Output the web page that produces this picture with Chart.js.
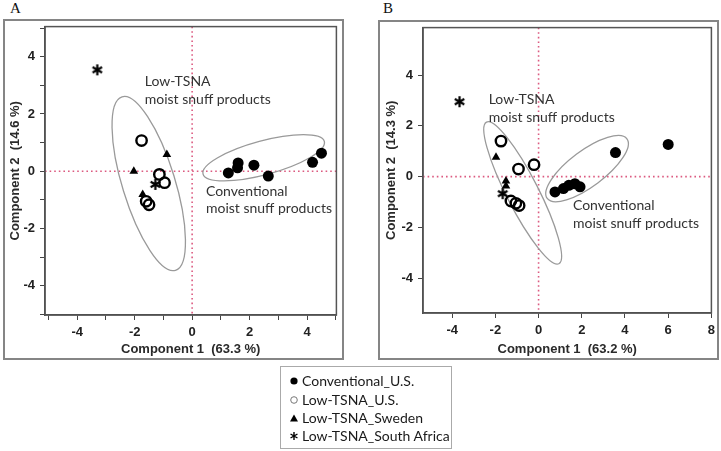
<!DOCTYPE html>
<html>
<head>
<meta charset="utf-8">
<script src="https://cdn.jsdelivr.net/npm/chart.js@4/dist/chart.umd.min.js"></script>
<style>
html,body{margin:0;padding:0;background:#fff;}
body{width:721px;height:451px;position:relative;overflow:hidden;font-family:Lato,"Open Sans",sans-serif;}
.abs{position:absolute;}
.frame{position:absolute;border:2px solid #858585;box-sizing:border-box;pointer-events:none;}
.letter{position:absolute;font-family:"Liberation Serif","DejaVu Serif",serif;font-size:15px;color:#111;line-height:15px;}
#legend{position:absolute;left:280px;top:366px;width:172px;height:83px;border:1.5px solid #aaa;box-sizing:border-box;}
.item{position:absolute;left:8px;height:18px;font-size:14px;color:#1a1a1a;line-height:18px;white-space:nowrap;}
.item canvas{position:absolute;left:0;top:4px;}
.item span{position:absolute;left:13px;top:0;}
</style>
</head>
<body>
<div class="letter" style="left:10px;top:1px;">A</div>
<div class="letter" style="left:383px;top:1px;">B</div>

<div class="abs" style="left:3px;top:19px;width:341px;height:341px;"><canvas id="chartA" width="341" height="341"></canvas></div>
<div class="abs" style="left:378px;top:20px;width:341px;height:340px;"><canvas id="chartB" width="341" height="340"></canvas></div>
<div class="frame" style="left:3px;top:19px;width:341px;height:341px;"></div>
<div class="frame" style="left:378px;top:20px;width:341px;height:340px;"></div>

<div id="legend"></div>

<script>
// ---------------- data ----------------
const seriesNames = ['Conventional_U.S.', 'Low-TSNA_U.S.', 'Low-TSNA_Sweden', 'Low-TSNA_South Africa'];

// Panel A
const convUS_A_x = [1.26, 1.58, 1.6, 2.15, 2.65, 4.19, 4.5];
const convUS_A_y = [-0.06, 0.12, 0.29, 0.21, -0.17, 0.31, 0.63];
const lowUS_A_x = [-1.76, -1.14, -0.96, -1.6, -1.5];
const lowUS_A_y = [1.07, -0.11, -0.4, -1.05, -1.17];
const lowSE_A_x = [-0.88, -2.03, -1.72];
const lowSE_A_y = [0.58, 0, -0.81];
const lowZA_A_x = [-3.3, -1.28];
const lowZA_A_y = [3.54, -0.46];

// Panel B
const convUS_B_x = [0.76, 1.15, 1.4, 1.68, 1.92, 3.56, 6.0];
const convUS_B_y = [-0.6, -0.47, -0.34, -0.28, -0.4, 0.95, 1.27];
const lowUS_B_x = [-1.74, -0.93, -0.21, -1.28, -1.05, -0.9];
const lowUS_B_y = [1.4, 0.3, 0.47, -0.96, -1.05, -1.14];
const lowSE_B_x = [-1.97, -1.51, -1.51];
const lowSE_B_y = [0.76, -0.17, -0.37];
const lowZA_B_x = [-3.66, -1.66];
const lowZA_B_y = [2.95, -0.67];

// ticks
const xTicksA = [-5, -4, -3, -2, -1, 0, 1, 2, 3, 4, 5];
const yTicksA = [-5, -4, -3, -2, -1, 0, 1, 2, 3, 4, 5];
const xLabelsA = [-4, -2, 0, 2, 4];
const yLabelsA = [-4, -2, 0, 2, 4];
const xTicksB = [-4, -2, 0, 2, 4, 6, 8];
const yTicksB = [-4, -2, 0, 2, 4];
const xLabelsB = [-4, -2, 0, 2, 4, 6, 8];
const yLabelsB = [-4, -2, 0, 2, 4];

const axisTitlesA = ['Component 1  (63.3 %)', 'Component 2  (14.6 %)'];
const axisTitlesB = ['Component 1  (63.2 %)', 'Component 2  (14.3 %)'];
const groupTitles = [['Low-TSNA', 'moist snuff products'], ['Conventional', 'moist snuff products']];

// ---------------- annotation geometry (data units) ----------------
const ellipsesA = [
  {p1: [-2.44, 2.6], p2: [-0.58, -3.46], ratio: 0.29},
  {p1: [0.38, -0.1], p2: [4.6, 1.04], ratio: 0.27}
];
const ellipsesB = [
  {p1: [-2.41, 2.15], p2: [0.94, -3.43], ratio: 0.2},
  {p1: [0.4, -0.86], p2: [4.09, 1.49], ratio: 0.36}
];
const textsA = [
  {x: -1.65, y: 3.15, t: groupTitles[0][0]}, {x: -1.65, y: 2.49, t: groupTitles[0][1]},
  {x: 0.48, y: -0.69, t: groupTitles[1][0]}, {x: 0.48, y: -1.31, t: groupTitles[1][1]}
];
const textsB = [
  {x: -2.31, y: 3.02, t: groupTitles[0][0]}, {x: -2.31, y: 2.33, t: groupTitles[0][1]},
  {x: 1.59, y: -1.12, t: groupTitles[1][0]}, {x: 1.59, y: -1.83, t: groupTitles[1][1]}
];

// ---------------- helpers ----------------
function drawAsterisk(ctx, cx, cy, r, lw) {
  ctx.save();
  ctx.strokeStyle = '#000'; ctx.lineWidth = lw; ctx.lineCap = 'butt';
  ctx.beginPath();
  for (let i = 0; i < 3; i++) {
    const a = Math.PI / 2 + i * Math.PI / 3;
    ctx.moveTo(cx + r * Math.cos(a), cy + r * Math.sin(a));
    ctx.lineTo(cx - r * Math.cos(a), cy - r * Math.sin(a));
  }
  ctx.stroke();
  ctx.restore();
}
const starImg = document.createElement('canvas');
starImg.width = 13; starImg.height = 13;
drawAsterisk(starImg.getContext('2d'), 6.5, 6.5, 5.5, 2.2);

function pts(xs, ys) { return xs.map((v, i) => ({x: v, y: ys[i]})); }

const overlay = {
  id: 'overlay',
  beforeDatasetsDraw(chart, args, opts) {
    const {ctx, chartArea: a, scales: {x, y}} = chart;
    ctx.save();
    ctx.beginPath(); ctx.rect(a.left, a.top, a.right - a.left, a.bottom - a.top); ctx.clip();
    const x0 = x.getPixelForValue(0), y0 = y.getPixelForValue(0);
    ctx.strokeStyle = '#dc5a80'; ctx.lineWidth = 1.6; ctx.setLineDash([1.6, 3]);
    ctx.beginPath();
    ctx.moveTo(x0, a.top); ctx.lineTo(x0, a.bottom);
    ctx.moveTo(a.left, y0); ctx.lineTo(a.right, y0);
    ctx.stroke();
    ctx.setLineDash([]);
    ctx.strokeStyle = '#9a9a9a'; ctx.lineWidth = 1.3;
    for (const e of opts.ellipses) {
      const ax = x.getPixelForValue(e.p1[0]), ay = y.getPixelForValue(e.p1[1]);
      const bx = x.getPixelForValue(e.p2[0]), by = y.getPixelForValue(e.p2[1]);
      const r = Math.hypot(bx - ax, by - ay) / 2;
      ctx.beginPath();
      ctx.ellipse((ax + bx) / 2, (ay + by) / 2, r, r * e.ratio, Math.atan2(by - ay, bx - ax), 0, Math.PI * 2);
      ctx.stroke();
    }
    ctx.restore();
  },
  afterDraw(chart, args, opts) {
    const {ctx, chartArea: a, scales: {x, y}} = chart;
    ctx.save();
    ctx.font = '14px Lato, "Open Sans", sans-serif';
    ctx.fillStyle = '#333'; ctx.textBaseline = 'middle'; ctx.textAlign = 'left';
    for (const t of opts.texts) ctx.fillText(t.t, x.getPixelForValue(t.x), y.getPixelForValue(t.y));
    ctx.strokeStyle = '#555'; ctx.lineWidth = 1.5;
    ctx.strokeRect(a.left, a.top, a.right - a.left, a.bottom - a.top);
    ctx.restore();
  }
};

const tickFont = {family: '"Liberation Sans", Arial, sans-serif', weight: 'bold', size: 13};

function makeChart(id, sets, cfg) {
  const datasets = [
    {label: seriesNames[0], data: pts(sets[0][0], sets[0][1]), pointStyle: 'circle', pointRadius: 5.5,
      backgroundColor: '#000', borderColor: '#000', borderWidth: 0},
    {label: seriesNames[1], data: pts(sets[1][0], sets[1][1]), pointStyle: 'circle', pointRadius: 5.2,
      backgroundColor: 'rgba(0,0,0,0)', borderColor: '#000', borderWidth: 2.4},
    {label: seriesNames[2], data: pts(sets[2][0], sets[2][1]), pointStyle: 'triangle', pointRadius: 5,
      backgroundColor: '#000', borderColor: '#000', borderWidth: 0},
    {label: seriesNames[3], data: pts(sets[3][0], sets[3][1]), pointStyle: starImg, pointRadius: 6,
      backgroundColor: '#000', borderColor: '#000'}
  ];
  const axis = (ticksArr, labelsArr, min, max, title, titlePad, size, tickPad) => ({
    type: 'linear', min, max,
    afterBuildTicks: s => { s.ticks = ticksArr.map(v => ({value: v})); },
    afterFit: s => {
      if (s.isHorizontal()) s.height = size; else s.width = size;
      s.paddingTop = 0; s.paddingBottom = 0; s.paddingLeft = 0; s.paddingRight = 0;
    },
    ticks: {
      callback: v => labelsArr.includes(v) ? String(v) : '',
      font: tickFont, color: '#222', padding: tickPad, maxRotation: 0, minRotation: 0, autoSkip: false
    },
    grid: {drawOnChartArea: false, drawTicks: true, tickLength: 5, color: '#444', lineWidth: 1},
    border: {display: true, color: '#444', width: 1.5},
    title: {display: true, text: title, font: tickFont, color: '#2a2a2a', padding: titlePad}
  });
  return new Chart(document.getElementById(id), {
    type: 'scatter',
    data: {datasets},
    options: {
      responsive: false, animation: false, devicePixelRatio: 1,
      layout: {padding: cfg.padding},
      plugins: {legend: {display: false}, tooltip: {enabled: false},
        overlay: {ellipses: cfg.ellipses, texts: cfg.texts}},
      scales: {
        x: axis(cfg.xTicks, cfg.xLabels, cfg.xMin, cfg.xMax, cfg.titles[0], {top: 0, bottom: 3.2}, cfg.xSize, 4.5),
        y: axis(cfg.yTicks, cfg.yLabels, cfg.yMin, cfg.yMax, cfg.titles[1], {top: cfg.yTitlePad, bottom: 0}, cfg.ySize, 5)
      }
    },
    plugins: [overlay]
  });
}

makeChart('chartA',
  [[convUS_A_x, convUS_A_y], [lowUS_A_x, lowUS_A_y], [lowSE_A_x, lowSE_A_y], [lowZA_A_x, lowZA_A_y]],
  {padding: {top: 5, right: 4, left: 0, bottom: 0}, xSize: 45, ySize: 42, yTitlePad: 4.2,
   xMin: -5.12, xMax: 5.02, yMin: -5.02, yMax: 5.05,
   xTicks: xTicksA, yTicks: yTicksA, xLabels: xLabelsA, yLabels: yLabelsA,
   titles: axisTitlesA, ellipses: ellipsesA, texts: textsA});

makeChart('chartB',
  [[convUS_B_x, convUS_B_y], [lowUS_B_x, lowUS_B_y], [lowSE_B_x, lowSE_B_y], [lowZA_B_x, lowZA_B_y]],
  {padding: {top: 3, right: 4, left: 0, bottom: 0}, xSize: 47, ySize: 45, yTitlePad: 5.9,
   xMin: -5.35, xMax: 8.0, yMin: -5.37, yMax: 5.87,
   xTicks: xTicksB, yTicks: yTicksB, xLabels: xLabelsB, yLabels: yLabelsB,
   titles: axisTitlesB, ellipses: ellipsesB, texts: textsB});

// ---------------- legend ----------------
const legend = document.getElementById('legend');
const legendTops = [5, 23.5, 41.5, 60];
seriesNames.forEach((name, i) => {
  const d = document.createElement('div');
  d.className = 'item'; d.style.top = legendTops[i] + 'px';
  const c = document.createElement('canvas'); c.width = 10; c.height = 10;
  const g = c.getContext('2d');
  if (i === 0) { g.fillStyle = '#000'; g.beginPath(); g.arc(5, 5, 3.6, 0, Math.PI * 2); g.fill(); }
  if (i === 1) { g.strokeStyle = '#777'; g.lineWidth = 1; g.beginPath(); g.arc(5, 5, 3.3, 0, Math.PI * 2); g.stroke(); }
  if (i === 2) { g.fillStyle = '#000'; g.beginPath(); g.moveTo(5, 1.5); g.lineTo(9, 8.5); g.lineTo(1, 8.5); g.closePath(); g.fill(); }
  if (i === 3) { drawAsterisk(g, 5, 5, 4, 1.4); }
  const s = document.createElement('span'); s.textContent = name;
  d.appendChild(c); d.appendChild(s); legend.appendChild(d);
});
</script>
</body>
</html>
